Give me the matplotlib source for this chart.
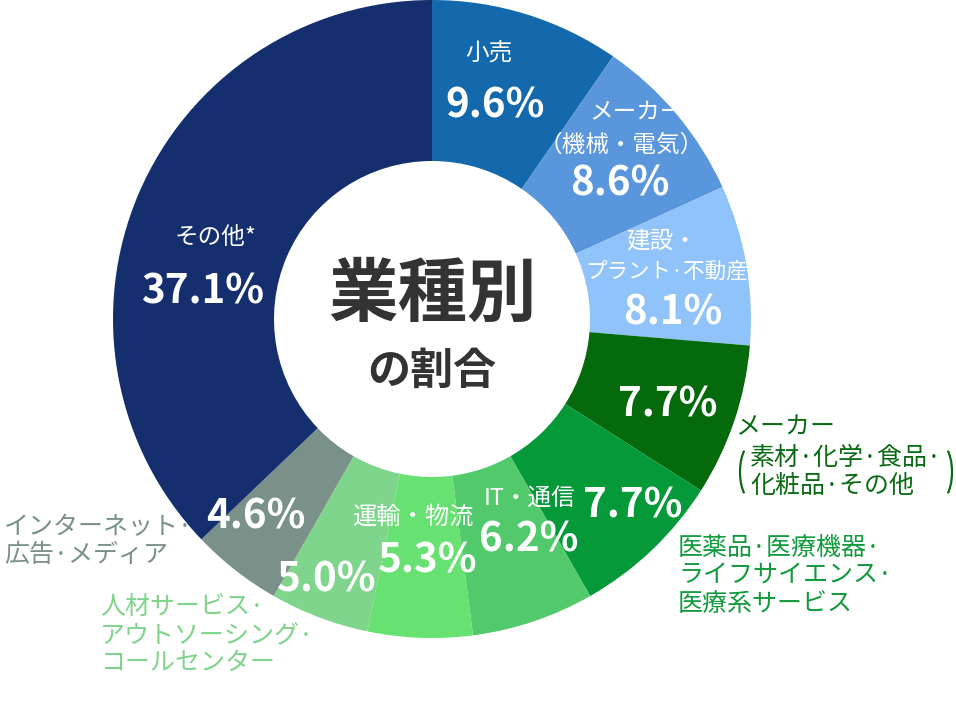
import matplotlib
matplotlib.use("Agg")
import matplotlib.pyplot as plt
from matplotlib.patches import Arc

plt.rcParams["font.family"] = ["Noto Sans CJK JP", "DejaVu Sans"]

# Data: share by industry (clockwise from top)
industries = [
    "小売",
    "メーカー（機械・電気）",
    "建設・プラント・不動産",
    "メーカー（素材・化学・食品・化粧品・その他）",
    "医薬品・医療機器・ライフサイエンス・医療系サービス",
    "IT・通信",
    "運輸・物流",
    "人材サービス・アウトソーシング・コールセンター",
    "インターネット・広告・メディア",
    "その他*",
]
shares = [9.6, 8.6, 8.1, 7.7, 7.7, 6.2, 5.3, 5.0, 4.6, 37.1]
colors = ["#1469ad", "#5a96dc", "#8fc3fa", "#046a0c", "#05993a",
          "#52c96a", "#66e172", "#7fd58c", "#7a9189", "#152f6e"]

W, H = 956, 703
fig = plt.figure(figsize=(W / 100, H / 100), dpi=100)
ax = fig.add_axes([0, 0, 1, 1])

cx, cy, r_out, r_in = 432, 319, 319, 158
ax.pie(shares, colors=colors, startangle=90, counterclock=False,
       radius=r_out, center=(cx, H - cy), frame=True,
       wedgeprops=dict(width=r_out - r_in, linewidth=0))
ax.set_xlim(0, W)
ax.set_ylim(0, H)
ax.set_aspect("equal")
ax.axis("off")


def put(x, y, s, size, color="white", weight="normal", ha="center"):
    ax.text(x, H - y, s, fontsize=size, color=color, fontweight=weight,
            ha=ha, va="center")


# labels inside the ring
pct = [f"{v:.1f}%" for v in shares]
small = 17
put(489, 54, "小売", small)
put(495, 106, pct[0], 29, weight="bold")
put(637, 113, "メーカー", small)
put(621, 145, "（機械・電気）", small)
put(620, 184, pct[1], 29, weight="bold")
put(662, 242, "建設・", small)
put(666, 272, "プラント·不動産", 15.5)
put(673, 313, pct[2], 29, weight="bold")
put(668, 405, pct[3], 29, weight="bold")
put(633, 506, pct[4], 29, weight="bold")
put(530, 498, "IT・通信", small)
put(529, 540, pct[5], 29, weight="bold")
put(413, 517, "運輸・物流", 17.5)
put(428, 561, pct[6], 29, weight="bold")
put(327, 580, pct[7], 29, weight="bold")
put(256, 517, pct[8], 29, weight="bold")
put(215, 237, "その他*", small)
put(203, 292, pct[9], 29, weight="bold")

# labels outside the ring
big = 18
green_dark = "#0b6b14"
put(735, 427, "メーカー", big, color=green_dark, ha="left")
put(750, 458, "素材·化学·食品·", big, color=green_dark, ha="left")
put(750, 486, "化粧品·その他", big, color=green_dark, ha="left")
ax.add_patch(Arc((752, H - 472), 24, 56, theta1=110, theta2=250,
                 color=green_dark, lw=1.6))
ax.add_patch(Arc((940, H - 472), 24, 56, theta1=-70, theta2=70,
                 color=green_dark, lw=1.6))

green_med = "#129a3c"
for i, line in enumerate(["医薬品·医療機器·", "ライフサイエンス·", "医療系サービス"]):
    put(678, 548 + 28 * i, line, big, color=green_med, ha="left")

for i, line in enumerate(["インターネット·", "広告·メディア"]):
    put(4, 527 + 28 * i, line, big, color="#7a9189", ha="left")

for i, line in enumerate(["人材サービス·", "アウトソーシング·", "コールセンター"]):
    put(100, 607 + 28 * i, line, big, color="#7fd38a", ha="left")

# center title
put(432, 296, "業種別", 50, color="#333333", weight="bold")
put(432, 371, "の割合", 31, color="#333333", weight="bold")

fig.savefig("out.png", dpi=100)
